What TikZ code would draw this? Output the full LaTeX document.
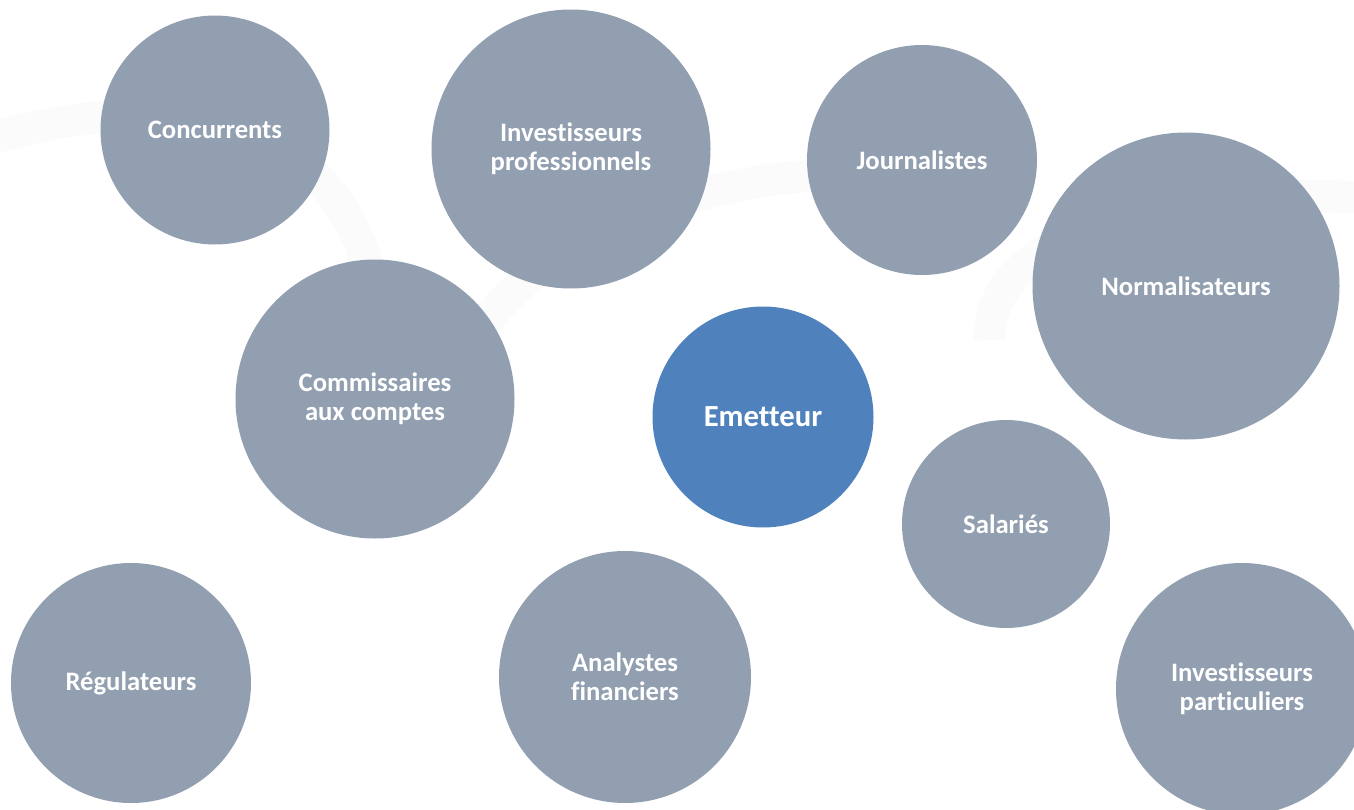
\documentclass[tikz,border=0pt]{standalone}
\usepackage{fontspec}
\setmainfont{Carlito}[Ligatures=NoCommon]
\definecolor{bubblegray}{HTML}{929FB0}
\definecolor{bubbleblue}{HTML}{4F81BD}
\definecolor{haze}{HTML}{FBFBFC}
\begin{document}
\begin{tikzpicture}[x=0.75pt,y=-0.75pt,
  bubble/.style={circle,fill=bubblegray,draw=none,inner sep=0pt,
    minimum size={0.75pt*#1},text=white,align=center,
    font=\fontsize{20}{22}\selectfont\bfseries},
  centrebubble/.style={bubble=#1,fill=bubbleblue,
    font=\fontsize{23}{26}\selectfont\bfseries},
  band/.style={draw=haze,line width=24pt}]
\useasboundingbox (0,0) rectangle (1354,810);
\clip (0,0) rectangle (1354,810);
\fill[white] (0,0) rectangle (1354,810);

% faint sweeping bands in the background
\draw[band] (-20,142) .. controls (150,88) and (330,110) .. (370,275);
\draw[band] (480,330) .. controls (560,215) and (760,160) .. (900,178);
\draw[band] (990,340) .. controls (985,240) and (1150,185) .. (1370,198);

% stakeholder bubbles
\node[bubble=229] (conc) at (215,130) {Concurrents};
\node[bubble=279] (invpro) at (571,149) {Investisseurs\\professionnels};
\node[bubble=230] (journ) at (922,160) {Journalistes};
\node[bubble=307] (norm) at (1186,286) {Normalisateurs};
\node[bubble=279] (cac) at (375,399) {Commissaires\\aux comptes};
\node[centrebubble=221] (emet) at (763,417) {Emetteur};
\node[bubble=208] (sal) at (1006,524) {Salariés};
\node[bubble=240] (reg) at (131,683) {Régulateurs};
\node[bubble=252] (anal) at (625,677) {Analystes\\financiers};
\node[bubble=252] (invpart) at (1242,689) {Investisseurs\\particuliers};
\end{tikzpicture}
\end{document}
